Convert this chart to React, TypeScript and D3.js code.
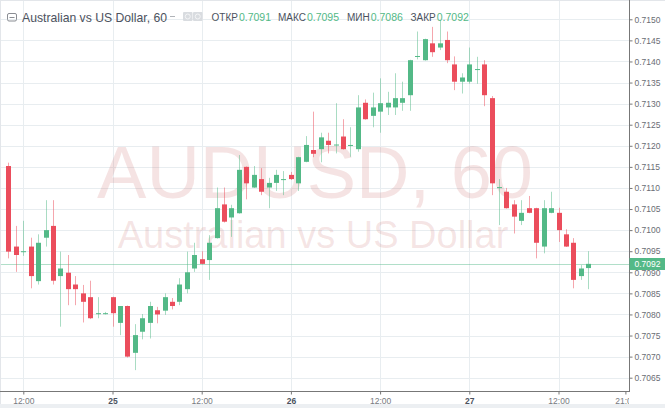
import React, { useEffect, useRef } from 'react';
import * as d3 from 'd3';

// hourly candles, first one at 24th 10:00
const startTime = '2018-09-24T10:00:00Z';

const opens = [
    0.71152, 0.70961, 0.70948, 0.70961, 0.70879, 0.70982, 0.71010, 0.70891, 0.70899, 0.70871,
    0.70850, 0.70841, 0.70802, 0.70803, 0.70841, 0.70780, 0.70820, 0.70709, 0.70759, 0.70780,
    0.70810, 0.70809, 0.70830, 0.70830, 0.70860, 0.70909, 0.70931, 0.70929, 0.70981, 0.71061,
    0.71030, 0.71040, 0.71150, 0.71101, 0.71121, 0.71101, 0.71112, 0.71120, 0.71131, 0.71111,
    0.71162, 0.71190, 0.71192, 0.71212, 0.71201, 0.71222, 0.71201, 0.71192, 0.71302, 0.71271,
    0.71281, 0.71291, 0.71291, 0.71302, 0.71320, 0.71412, 0.71403, 0.71443, 0.71433, 0.71451,
    0.71393, 0.71352, 0.71352, 0.71381, 0.71393, 0.71313, 0.71100, 0.71091, 0.71061, 0.71022,
    0.71052, 0.71052, 0.70961, 0.71041, 0.71041, 0.70990, 0.70970, 0.70891, 0.70910,
];
const highs = [
    0.71160, 0.71010, 0.71022, 0.70982, 0.70990, 0.71071, 0.71071, 0.70949, 0.70941, 0.70891,
    0.70870, 0.70880, 0.70841, 0.70806, 0.70842, 0.70820, 0.70821, 0.70777, 0.70801, 0.70830,
    0.70818, 0.70850, 0.70839, 0.70886, 0.70949, 0.70970, 0.70950, 0.70988, 0.71101, 0.71101,
    0.71060, 0.71178, 0.71151, 0.71152, 0.71147, 0.71124, 0.71143, 0.71140, 0.71138, 0.71174,
    0.71223, 0.71281, 0.71231, 0.71231, 0.71301, 0.71263, 0.71244, 0.71320, 0.71310, 0.71326,
    0.71360, 0.71328, 0.71372, 0.71352, 0.71404, 0.71471, 0.71454, 0.71482, 0.71498, 0.71471,
    0.71412, 0.71372, 0.71433, 0.71411, 0.71403, 0.71318, 0.71121, 0.71100, 0.71071, 0.71071,
    0.71081, 0.71053, 0.71071, 0.71091, 0.71053, 0.71002, 0.70981, 0.70917, 0.70950,
];
const lows = [
    0.70933, 0.70901, 0.70939, 0.70862, 0.70871, 0.70961, 0.70871, 0.70771, 0.70822, 0.70822,
    0.70781, 0.70789, 0.70791, 0.70800, 0.70771, 0.70751, 0.70698, 0.70668, 0.70741, 0.70743,
    0.70779, 0.70799, 0.70812, 0.70822, 0.70850, 0.70901, 0.70919, 0.70882, 0.70980, 0.71018,
    0.70984, 0.71039, 0.71073, 0.71100, 0.71083, 0.71052, 0.71093, 0.71083, 0.71119, 0.71093,
    0.71161, 0.71173, 0.71161, 0.71182, 0.71182, 0.71191, 0.71174, 0.71186, 0.71262, 0.71244,
    0.71231, 0.71273, 0.71273, 0.71283, 0.71283, 0.71405, 0.71402, 0.71411, 0.71427, 0.71396,
    0.71332, 0.71324, 0.71347, 0.71347, 0.71294, 0.71083, 0.71012, 0.71051, 0.70992, 0.71012,
    0.71040, 0.70933, 0.70945, 0.71040, 0.70972, 0.70960, 0.70862, 0.70882, 0.70860,
];
const closes = [
    0.70949, 0.70941, 0.70950, 0.70891, 0.70970, 0.71000, 0.70880, 0.70909, 0.70860, 0.70860,
    0.70830, 0.70791, 0.70803, 0.70803, 0.70803, 0.70820, 0.70700, 0.70751, 0.70791, 0.70820,
    0.70800, 0.70841, 0.70820, 0.70871, 0.70900, 0.70941, 0.70920, 0.70970, 0.71052, 0.71020,
    0.71052, 0.71143, 0.71111, 0.71131, 0.71091, 0.71112, 0.71131, 0.71121, 0.71121, 0.71173,
    0.71202, 0.71181, 0.71220, 0.71202, 0.71203, 0.71192, 0.71202, 0.71291, 0.71263, 0.71291,
    0.71301, 0.71302, 0.71313, 0.71313, 0.71403, 0.71413, 0.71453, 0.71422, 0.71443, 0.71403,
    0.71352, 0.71362, 0.71393, 0.71382, 0.71320, 0.71111, 0.71102, 0.71052, 0.71032, 0.71041,
    0.71041, 0.70970, 0.71052, 0.71052, 0.71000, 0.70961, 0.70882, 0.70909, 0.70920,
];

const yTicks = [
    0.7065, 0.7070, 0.7075, 0.7080, 0.7085, 0.7090, 0.7095, 0.7100, 0.7105,
    0.7110, 0.7115, 0.7120, 0.7125, 0.7130, 0.7135, 0.7140, 0.7145, 0.7150,
];
const xTickTimes = [
    '2018-09-24T12:00:00Z', '2018-09-25T00:00:00Z', '2018-09-25T12:00:00Z', '2018-09-26T00:00:00Z',
    '2018-09-26T12:00:00Z', '2018-09-27T00:00:00Z', '2018-09-27T12:00:00Z', '2018-09-27T21:00:00Z',
];
const xTickLabels = ['12:00', '25', '12:00', '26', '12:00', '27', '12:00', '21:00'];

const title = 'Australian vs US Dollar, 60';
const watermark = 'AUDUSD, 60';
const watermarkSub = 'Australian vs US Dollar';
const headerLabels = ['ОТКР', 'МАКС', 'МИН', 'ЗАКР'];
const headerValues = ['0.7091', '0.7095', '0.7086', '0.7092'];
const lastPrice = 0.7092;

const W = 665;
const H = 408;
const UP = '#53b987';
const DOWN = '#eb4d5c';
const FONT = '"Liberation Sans", Arial, sans-serif';

const App: React.FC = () => {
    const svgRef = useRef<SVGSVGElement>(null);

    useEffect(() => {
        document.body.style.margin = '0';
        if (!svgRef.current) return;

        const plot = { left: 1, right: 629, top: 1, bottom: 391 };

        const svg = d3.select(svgRef.current);
        svg.selectAll('*').remove();

        const start = new Date(startTime).getTime();
        const data = opens.map((o, i) => ({
            time: new Date(start + i * 3600 * 1000),
            open: o,
            high: highs[i],
            low: lows[i],
            close: closes[i],
        }));

        const x = d3.scaleUtc()
            .domain([new Date('2018-09-24T12:00:00Z'), new Date('2018-09-27T12:00:00Z')])
            .range([23.3, 558.5]);
        const y = d3.scaleLinear()
            .domain([0.7065, 0.7150])
            .range([377.7, 19.3]);

        svg.append('rect').attr('width', W).attr('height', H).attr('fill', '#fff');

        const defs = svg.append('defs');
        defs.append('clipPath').attr('id', 'plot-clip')
            .append('rect')
            .attr('x', plot.left).attr('y', plot.top)
            .attr('width', plot.right - plot.left).attr('height', plot.bottom - plot.top);
        defs.append('clipPath').attr('id', 'xaxis-clip')
            .append('rect')
            .attr('x', 0).attr('y', -5)
            .attr('width', plot.right).attr('height', 20);

        const chartArea = svg.append('g').attr('clip-path', 'url(#plot-clip)');

        // Grid
        chartArea.append('g').selectAll('line')
            .data(yTicks)
            .join('line')
            .attr('x1', plot.left).attr('x2', plot.right)
            .attr('y1', d => Math.round(y(d)) + 0.5).attr('y2', d => Math.round(y(d)) + 0.5)
            .attr('stroke', '#e8edf0');
        chartArea.append('g').selectAll('line')
            .data(xTickTimes.slice(0, 7))
            .join('line')
            .attr('x1', d => Math.round(x(new Date(d))) + 0.5).attr('x2', d => Math.round(x(new Date(d))) + 0.5)
            .attr('y1', plot.top).attr('y2', plot.bottom)
            .attr('stroke', '#e8edf0');

        // Watermark
        chartArea.append('text')
            .attr('x', 315).attr('y', 198)
            .attr('text-anchor', 'middle')
            .style('font-family', FONT).style('font-size', '74px')
            .attr('fill', 'rgba(195, 90, 90, 0.17)')
            .text(watermark);
        chartArea.append('text')
            .attr('x', 313).attr('y', 248)
            .attr('text-anchor', 'middle')
            .style('font-family', FONT).style('font-size', '38px')
            .attr('fill', 'rgba(195, 90, 90, 0.17)')
            .text(watermarkSub);

        // Last price line
        chartArea.append('line')
            .attr('x1', plot.left).attr('x2', plot.right)
            .attr('y1', Math.round(y(lastPrice)) + 0.5).attr('y2', Math.round(y(lastPrice)) + 0.5)
            .attr('stroke', UP).attr('stroke-opacity', 0.45);

        // Candles
        const candles = chartArea.append('g').selectAll('g')
            .data(data)
            .join('g');
        candles.append('line')
            .attr('x1', d => Math.round(x(d.time)) + 0.5)
            .attr('x2', d => Math.round(x(d.time)) + 0.5)
            .attr('y1', d => y(d.high))
            .attr('y2', d => y(d.low))
            .attr('stroke', d => d.close >= d.open ? UP : DOWN)
            .attr('stroke-opacity', 0.5);
        candles.append('rect')
            .attr('x', d => Math.round(x(d.time)) - 2)
            .attr('width', 5)
            .attr('y', d => y(Math.max(d.open, d.close)))
            .attr('height', d => Math.max(1, Math.abs(y(d.open) - y(d.close))))
            .attr('fill', d => d.close >= d.open ? UP : DOWN);

        // Frame
        svg.append('line')
            .attr('x1', 0.5).attr('x2', 0.5).attr('y1', 0).attr('y2', 404)
            .attr('stroke', '#e3e6ea');
        svg.append('line')
            .attr('x1', 0).attr('x2', W).attr('y1', 0.5).attr('y2', 0.5)
            .attr('stroke', '#e3e6ea');
        svg.append('rect')
            .attr('x', 0).attr('y', 404).attr('width', W).attr('height', 4)
            .attr('fill', '#eceff2');

        // Y axis
        const yAxisG = svg.append('g').attr('transform', `translate(${plot.right + 0.5},0)`);
        yAxisG.call(d3.axisRight(y).tickValues(yTicks).tickSize(3).tickPadding(2)
            .tickFormat(d3.format('.4f')) as any);
        yAxisG.select('.domain').remove();
        yAxisG.selectAll('line').attr('stroke', '#777');
        yAxisG.selectAll('text')
            .attr('fill', '#6a6d74')
            .style('font-family', FONT).style('font-size', '8.5px');
        svg.append('line')
            .attr('x1', plot.right + 0.5).attr('x2', plot.right + 0.5)
            .attr('y1', 0).attr('y2', plot.bottom + 1)
            .attr('stroke', '#777');

        // Last price label (sits over the neighbouring tick label, as in the original)
        const ly = Math.round(y(lastPrice)) + 0.5;
        svg.append('rect')
            .attr('x', plot.right + 0.5).attr('y', ly - 6.5)
            .attr('width', W - plot.right).attr('height', 12)
            .attr('fill', UP);
        svg.append('text')
            .attr('x', plot.right + 5.5).attr('y', ly + 2.5)
            .attr('fill', '#fff')
            .style('font-family', FONT).style('font-size', '8.5px')
            .text(d3.format('.4f')(lastPrice));

        // X axis
        const xAxisG = svg.append('g')
            .attr('transform', `translate(0,${plot.bottom + 0.5})`)
            .attr('clip-path', 'url(#xaxis-clip)');
        xAxisG.call(d3.axisBottom(x)
            .tickValues(xTickTimes.map(t => new Date(t)))
            .tickSize(3).tickPadding(3)
            .tickFormat((_, i) => xTickLabels[i]) as any);
        xAxisG.select('.domain').remove();
        xAxisG.selectAll('line').attr('stroke', '#777');
        xAxisG.selectAll('text')
            .attr('fill', (_, i) => xTickLabels[i].includes(':') ? '#777a80' : '#4c525e')
            .style('font-weight', (_, i) => xTickLabels[i].includes(':') ? 'normal' : 'bold')
            .style('font-family', FONT).style('font-size', '8.5px');
        svg.append('line')
            .attr('x1', 0).attr('x2', plot.right + 1)
            .attr('y1', plot.bottom + 0.5).attr('y2', plot.bottom + 0.5)
            .attr('stroke', '#777');

        // Header
        const header = svg.append('g');
        header.append('rect')
            .attr('x', 7.5).attr('y', 13.5).attr('width', 9).attr('height', 7.5).attr('rx', 1.5)
            .attr('fill', 'none').attr('stroke', '#8a8d93');
        header.append('line')
            .attr('x1', 9.5).attr('x2', 14.5).attr('y1', 17.5).attr('y2', 17.5)
            .attr('stroke', '#8a8d93');
        header.append('text')
            .attr('x', 22).attr('y', 21.5)
            .attr('fill', '#4c525e')
            .style('font-family', FONT).style('font-size', '12.2px')
            .text(title);
        header.append('line')
            .attr('x1', 170).attr('x2', 175).attr('y1', 16.5).attr('y2', 16.5)
            .attr('stroke', '#b0b3b8');
        [183, 193].forEach(ix => {
            header.append('rect')
                .attr('x', ix).attr('y', 12).attr('width', 9.5).attr('height', 9).attr('rx', 1)
                .attr('fill', '#d9dce0');
            header.append('circle')
                .attr('cx', ix + 4.75).attr('cy', 16.5).attr('r', 2.5)
                .attr('fill', 'none').attr('stroke', '#f4f5f6');
        });
        const labelX = [211.5, 278, 347, 410.5];
        headerLabels.forEach((lbl, i) => {
            const t = header.append('text')
                .attr('x', labelX[i]).attr('y', 20.5)
                .attr('fill', '#4c525e')
                .style('font-family', FONT).style('font-size', '10px')
                .text(lbl);
            const w = (t.node() as SVGTextElement).getComputedTextLength();
            header.append('text')
                .attr('x', labelX[i] + w + 1).attr('y', 20.5)
                .attr('fill', UP)
                .style('font-family', FONT).style('font-size', '10.5px')
                .text(headerValues[i]);
        });
    }, []);

    return <svg ref={svgRef} width={W} height={H} style={{ display: 'block' }} />;
};

export default App;
